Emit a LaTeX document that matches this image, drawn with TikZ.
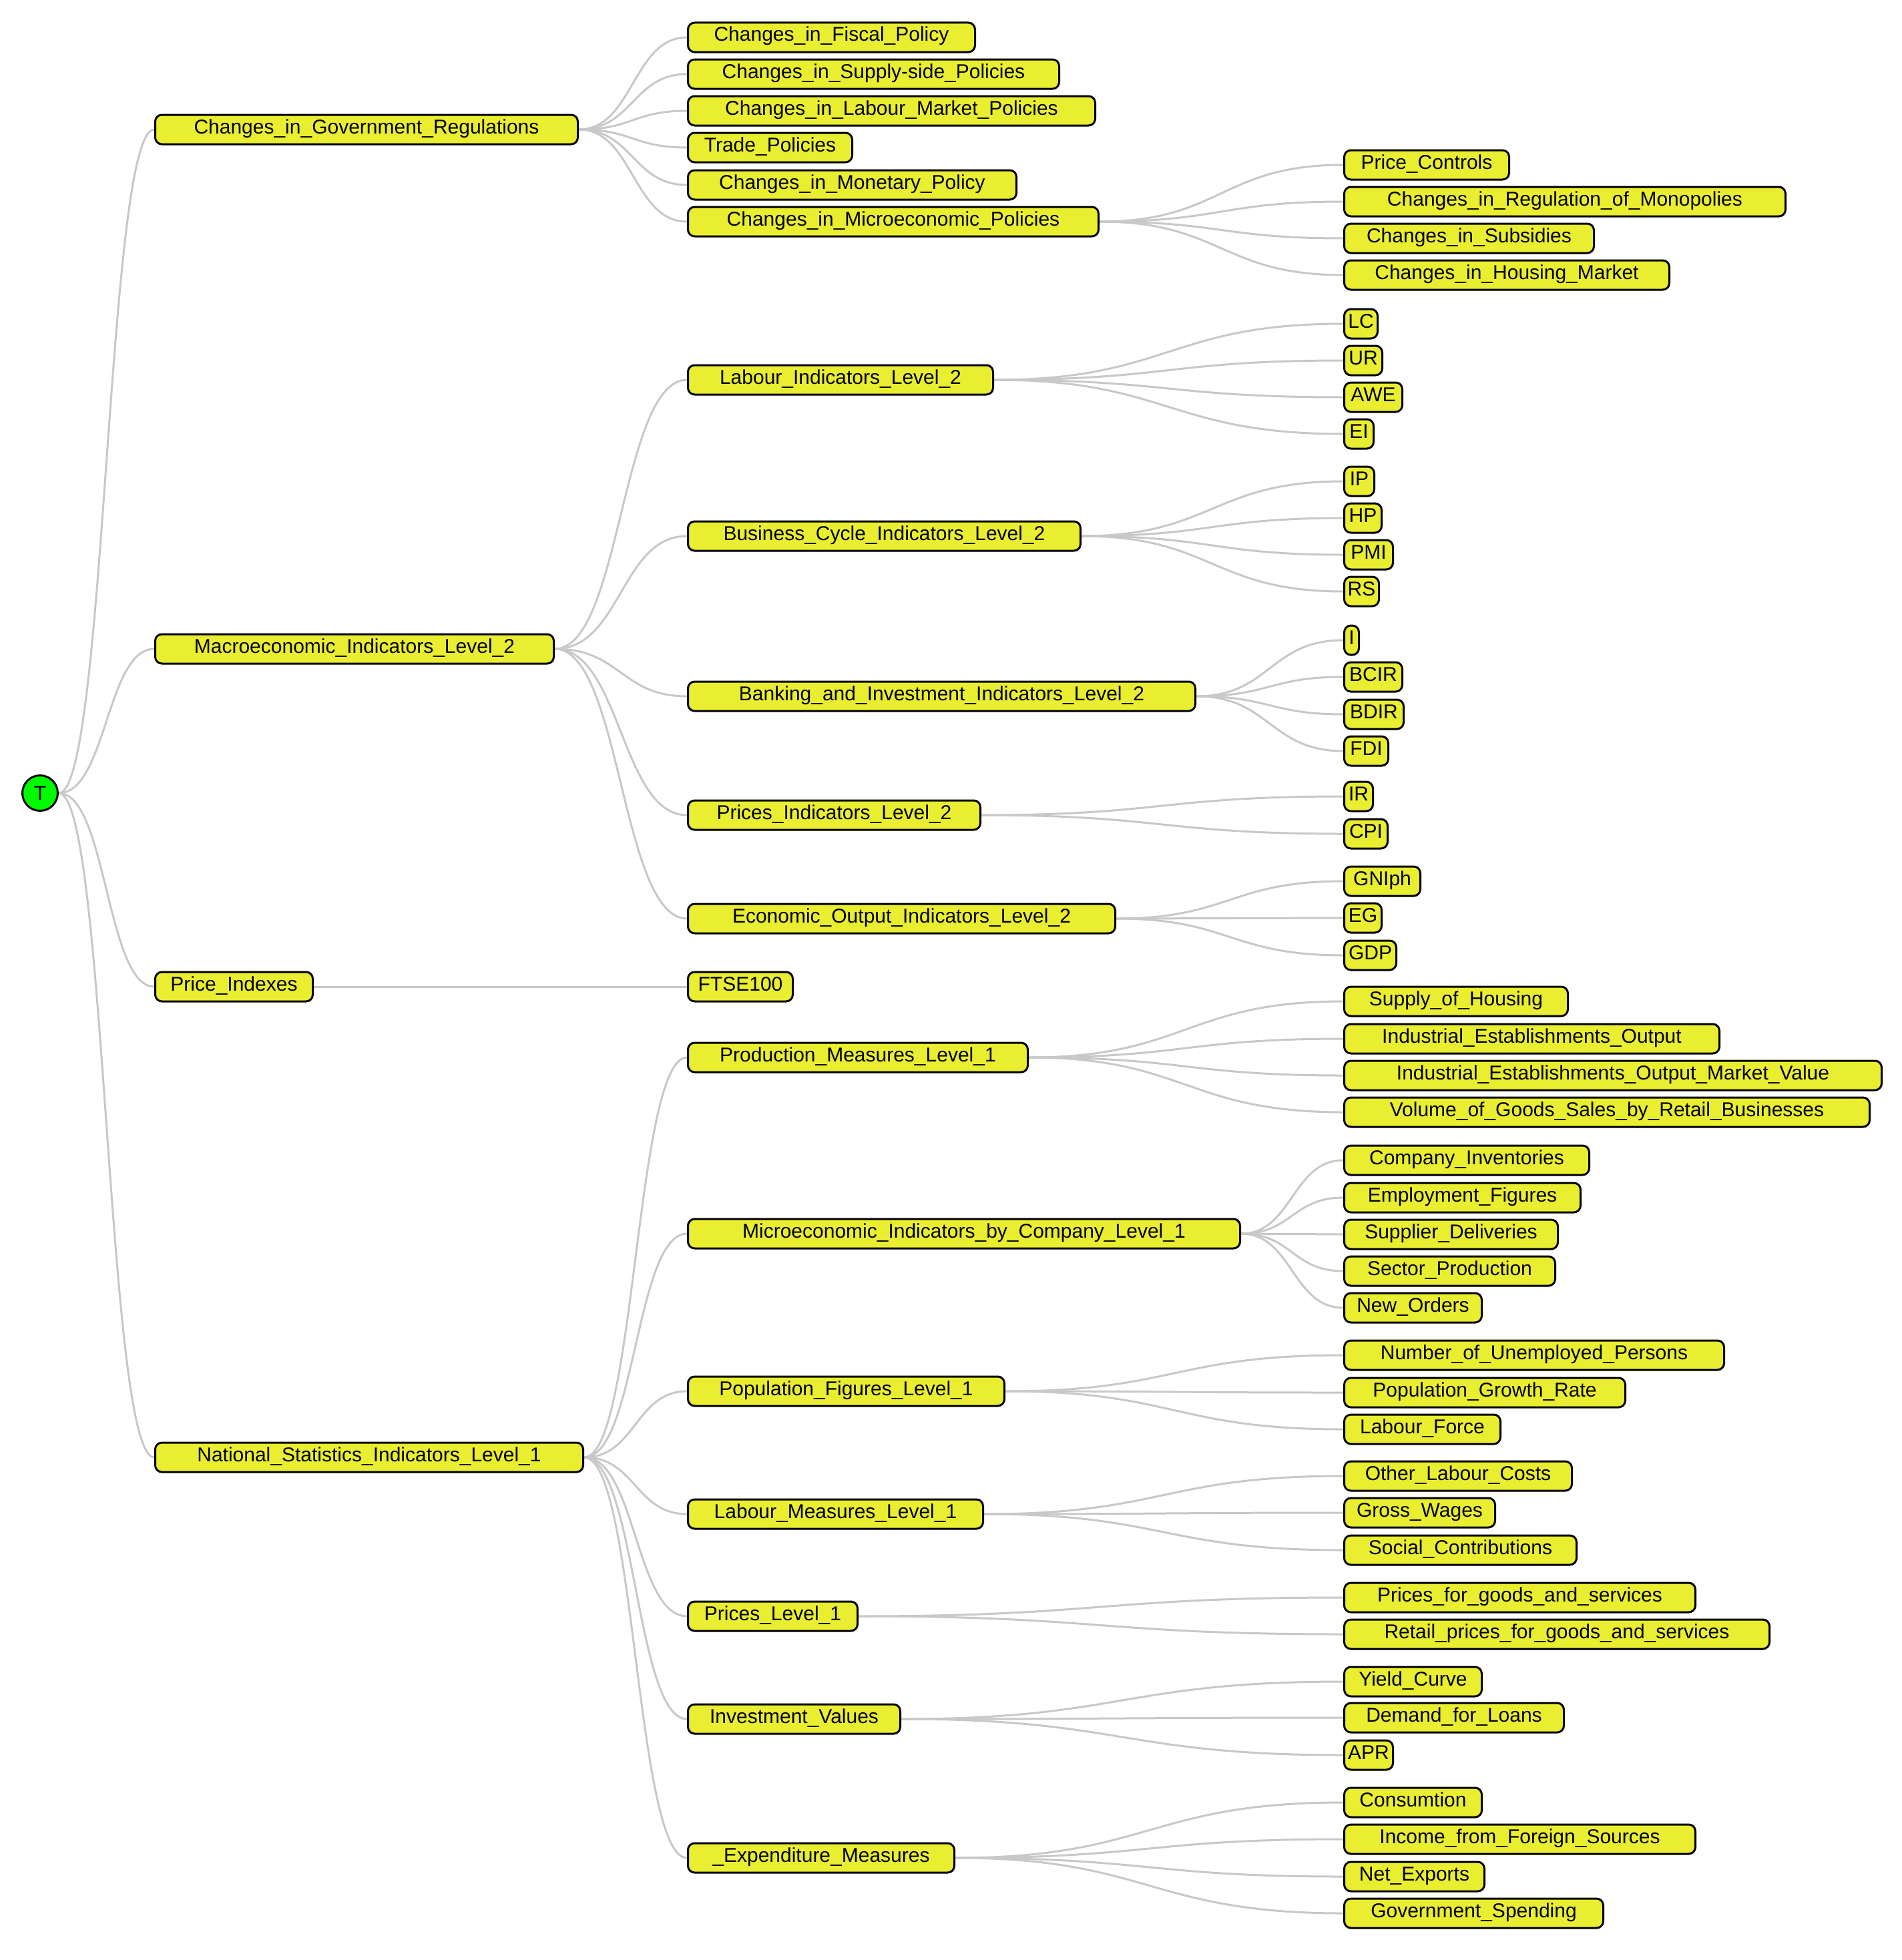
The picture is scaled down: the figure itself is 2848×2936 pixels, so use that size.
\documentclass[tikz,border=0pt]{standalone}
\usepackage{fontspec}
\setmainfont{Liberation Sans}
\usetikzlibrary{calc,backgrounds}

\definecolor{boxfill}{RGB}{234,238,48}
\definecolor{linkgray}{RGB}{200,200,200}
\definecolor{rootgreen}{RGB}{0,250,0}

\tikzset{
  box/.style={draw=black, line width=3pt, fill=boxfill, rounded corners=10pt,
    anchor=west, inner sep=0pt, minimum height=44pt,
    text height=22pt, text depth=10pt, font=\fontsize{30}{36}\selectfont},
  rootnode/.style={circle, draw=black, line width=3pt, fill=rootgreen,
    minimum size=53pt, inner sep=0pt, font=\fontsize{30}{36}\selectfont},
  link/.style={draw=linkgray, line width=3pt},
  diag/.style={to path={let \p1=(\tikztostart), \p2=(\tikztotarget) in
    .. controls ({(\x1+\x2)/2},\y1) and ({(\x1+\x2)/2},\y2) .. (\tikztotarget)}}
}

\begin{document}
\begin{tikzpicture}[x=1pt, y=-1pt]
\useasboundingbox (0,0) rectangle (2848,2936);

% root
\node[rootnode] (root) at (60,1188) {T};

% first level
\node[box, minimum width=633] (gov)   at (231,194)  {Changes\_in\_Government\_Regulations};
\node[box, minimum width=597] (macro) at (231,972)  {Macroeconomic\_Indicators\_Level\_2};
\node[box, minimum width=236] (pidx)  at (231,1478) {Price\_Indexes};
\node[box, minimum width=641] (nat)   at (231,2183) {National\_Statistics\_Indicators\_Level\_1};

% second level
\node[box, minimum width=430] (fiscal) at (1029,56)  {Changes\_in\_Fiscal\_Policy};
\node[box, minimum width=556] (supply) at (1029,111) {Changes\_in\_Supply-side\_Policies};
\node[box, minimum width=610] (labmkt) at (1029,166) {Changes\_in\_Labour\_Market\_Policies};
\node[box, minimum width=246] (trade)  at (1029,221) {Trade\_Policies};
\node[box, minimum width=492] (monet)  at (1029,277) {Changes\_in\_Monetary\_Policy};
\node[box, minimum width=615] (micro)  at (1029,332) {Changes\_in\_Microeconomic\_Policies};

\node[box, minimum width=457] (labind) at (1029,569)  {Labour\_Indicators\_Level\_2};
\node[box, minimum width=588] (bci)    at (1029,803)  {Business\_Cycle\_Indicators\_Level\_2};
\node[box, minimum width=760] (bii)    at (1029,1043) {Banking\_and\_Investment\_Indicators\_Level\_2};
\node[box, minimum width=438] (pil)    at (1029,1221) {Prices\_Indicators\_Level\_2};
\node[box, minimum width=640] (eoi)    at (1029,1376) {Economic\_Output\_Indicators\_Level\_2};

\node[box, minimum width=157] (ftse)   at (1029,1478) {FTSE100};

\node[box, minimum width=509] (prod)   at (1029,1584) {Production\_Measures\_Level\_1};
\node[box, minimum width=827] (mic)    at (1029,1848) {Microeconomic\_Indicators\_by\_Company\_Level\_1};
\node[box, minimum width=474] (pop)    at (1029,2084) {Population\_Figures\_Level\_1};
\node[box, minimum width=442] (labm)   at (1029,2268) {Labour\_Measures\_Level\_1};
\node[box, minimum width=254] (prl)    at (1029,2421) {Prices\_Level\_1};
\node[box, minimum width=318] (inv)    at (1029,2575) {Investment\_Values};
\node[box, minimum width=399] (expm)   at (1029,2783) {\_Expenditure\_Measures};

% third level
\node[box, minimum width=247] (pc)    at (2012,247) {Price\_Controls};
\node[box, minimum width=661] (crm)   at (2012,302) {Changes\_in\_Regulation\_of\_Monopolies};
\node[box, minimum width=374] (csub)  at (2012,357) {Changes\_in\_Subsidies};
\node[box, minimum width=487] (chm)   at (2012,412) {Changes\_in\_Housing\_Market};

\node[box, minimum width=50] (lc)   at (2012,485) {LC};
\node[box, minimum width=57] (ur)   at (2012,540) {UR};
\node[box, minimum width=87] (awe)  at (2012,595) {AWE};
\node[box, minimum width=44] (ei)   at (2012,650) {EI};

\node[box, minimum width=45] (ip)   at (2012,721) {IP};
\node[box, minimum width=56] (hp)   at (2012,776) {HP};
\node[box, minimum width=73] (pmi)  at (2012,831) {PMI};
\node[box, minimum width=52] (rs)   at (2012,886) {RS};

\node[box, minimum width=22] (ii)   at (2012,959)  {I};
\node[box, minimum width=87] (bcir) at (2012,1014) {BCIR};
\node[box, minimum width=89] (bdir) at (2012,1070) {BDIR};
\node[box, minimum width=66] (fdi)  at (2012,1125) {FDI};

\node[box, minimum width=43] (ir)   at (2012,1193) {IR};
\node[box, minimum width=65] (cpi)  at (2012,1249) {CPI};

\node[box, minimum width=114] (gniph) at (2012,1320) {GNIph};
\node[box, minimum width=56]  (eg)    at (2012,1375) {EG};
\node[box, minimum width=78]  (gdp)   at (2012,1431) {GDP};

\node[box, minimum width=335] (soh)   at (2012,1500) {Supply\_of\_Housing};
\node[box, minimum width=562] (ieo)   at (2012,1556) {Industrial\_Establishments\_Output};
\node[box, minimum width=805] (ieomv) at (2012,1611) {Industrial\_Establishments\_Output\_Market\_Value};
\node[box, minimum width=787] (vgs)   at (2012,1666) {Volume\_of\_Goods\_Sales\_by\_Retail\_Businesses};

\node[box, minimum width=367] (cinv)  at (2012,1738) {Company\_Inventories};
\node[box, minimum width=354] (empf)  at (2012,1794) {Employment\_Figures};
\node[box, minimum width=320] (supd)  at (2012,1849) {Supplier\_Deliveries};
\node[box, minimum width=316] (secp)  at (2012,1904) {Sector\_Production};
\node[box, minimum width=206] (newo)  at (2012,1959) {New\_Orders};

\node[box, minimum width=569] (nup)   at (2012,2030) {Number\_of\_Unemployed\_Persons};
\node[box, minimum width=421] (pgr)   at (2012,2086) {Population\_Growth\_Rate};
\node[box, minimum width=234] (lf)    at (2012,2141) {Labour\_Force};

\node[box, minimum width=341] (olc)   at (2012,2211) {Other\_Labour\_Costs};
\node[box, minimum width=226] (gw)    at (2012,2266) {Gross\_Wages};
\node[box, minimum width=348] (sc)    at (2012,2322) {Social\_Contributions};

\node[box, minimum width=526] (pgs)   at (2012,2393) {Prices\_for\_goods\_and\_services};
\node[box, minimum width=637] (rpgs)  at (2012,2448) {Retail\_prices\_for\_goods\_and\_services};

\node[box, minimum width=206] (yc)    at (2012,2519) {Yield\_Curve};
\node[box, minimum width=329] (dfl)   at (2012,2573) {Demand\_for\_Loans};
\node[box, minimum width=73]  (apr)   at (2012,2629) {APR};

\node[box, minimum width=206] (cons)  at (2012,2700) {Consumtion};
\node[box, minimum width=526] (iffs)  at (2012,2755) {Income\_from\_Foreign\_Sources};
\node[box, minimum width=210] (nex)   at (2012,2811) {Net\_Exports};
\node[box, minimum width=388] (gsp)   at (2012,2866) {Government\_Spending};

% connectors, kept behind the boxes
\begin{scope}[on background layer]
  \foreach \c in {gov,macro,pidx,nat}
    \draw[link] (root.east) to[diag] (\c.west);
  \foreach \c in {fiscal,supply,labmkt,trade,monet,micro}
    \draw[link] (gov.east) to[diag] (\c.west);
  \foreach \c in {labind,bci,bii,pil,eoi}
    \draw[link] (macro.east) to[diag] (\c.west);
  \draw[link] (pidx.east) to[diag] (ftse.west);
  \foreach \c in {prod,mic,pop,labm,prl,inv,expm}
    \draw[link] (nat.east) to[diag] (\c.west);
  \foreach \c in {pc,crm,csub,chm}
    \draw[link] (micro.east) to[diag] (\c.west);
  \foreach \c in {lc,ur,awe,ei}
    \draw[link] (labind.east) to[diag] (\c.west);
  \foreach \c in {ip,hp,pmi,rs}
    \draw[link] (bci.east) to[diag] (\c.west);
  \foreach \c in {ii,bcir,bdir,fdi}
    \draw[link] (bii.east) to[diag] (\c.west);
  \foreach \c in {ir,cpi}
    \draw[link] (pil.east) to[diag] (\c.west);
  \foreach \c in {gniph,eg,gdp}
    \draw[link] (eoi.east) to[diag] (\c.west);
  \foreach \c in {soh,ieo,ieomv,vgs}
    \draw[link] (prod.east) to[diag] (\c.west);
  \foreach \c in {cinv,empf,supd,secp,newo}
    \draw[link] (mic.east) to[diag] (\c.west);
  \foreach \c in {nup,pgr,lf}
    \draw[link] (pop.east) to[diag] (\c.west);
  \foreach \c in {olc,gw,sc}
    \draw[link] (labm.east) to[diag] (\c.west);
  \foreach \c in {pgs,rpgs}
    \draw[link] (prl.east) to[diag] (\c.west);
  \foreach \c in {yc,dfl,apr}
    \draw[link] (inv.east) to[diag] (\c.west);
  \foreach \c in {cons,iffs,nex,gsp}
    \draw[link] (expm.east) to[diag] (\c.west);
\end{scope}
\end{tikzpicture}
\end{document}
